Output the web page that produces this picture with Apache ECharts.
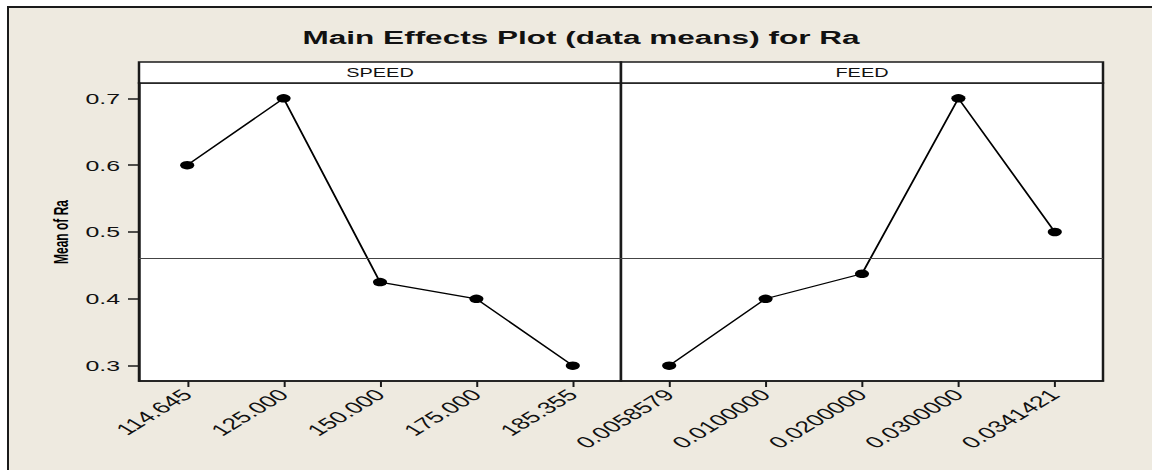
<!DOCTYPE html>
<html><head><meta charset="utf-8">
<script src="https://cdn.jsdelivr.net/npm/echarts@6/dist/echarts.min.js"></script>
<style>
html,body{margin:0;padding:0;background:#ffffff;overflow:hidden;width:1152px;height:470px;}
#frame{position:absolute;left:7px;top:6px;width:1160px;height:480px;background:#EEEAE0;border-left:2px solid #1a1a1a;border-top:2px solid #1a1a1a;}
#wrap{position:absolute;left:0;top:0;width:694px;height:470px;transform-origin:0 0;}
</style></head><body><div id="frame"></div><div id="wrap"></div>
<script>
// ---- data ----
const chartTitle = 'Main Effects Plot (data means) for Ra';
const yAxisTitle = 'Mean of Ra';
const factorNames = ['SPEED', 'FEED'];
const speedLevels = ['114.645', '125.000', '150.000', '175.000', '185.355'];
const speedMeans = [0.6, 0.7, 0.425, 0.4, 0.3];
const feedLevels = ['0.0058579', '0.0100000', '0.0200000', '0.0300000', '0.0341421'];
const feedMeans = [0.3, 0.4, 0.4375, 0.7, 0.5];
const overallMean = 0.464;
const yTicks = [0.3, 0.4, 0.5, 0.6, 0.7];

// ---- layout (visual px; chart drawn in a horizontally stretched box) ----
const PRE_W = 694, K = 1152 / PRE_W;
const wrap = document.getElementById('wrap');
wrap.style.transform = 'scaleX(' + K + ')';
const X = v => v / K;
const plotLeft = 139, panelW = 482, stripTop = 62, plotTop = 83, plotH = 298;
const FONT = '"Liberation Sans", Arial, Helvetica, sans-serif';
const INK = '#1a1a1a';

const levelsList = [speedLevels, feedLevels];
const meansList = [speedMeans, feedMeans];

const chart = echarts.init(wrap, null, {renderer: 'svg', width: PRE_W, height: 470});

const grids = [], xAxes = [], yAxes = [], series = [], graphics = [];
factorNames.forEach((name, i) => {
  grids.push({left: X(plotLeft + panelW * i), top: plotTop, width: X(panelW), height: plotH,
    show: true, backgroundColor: '#ffffff', borderColor: INK, borderWidth: 1.5, containLabel: false});
  xAxes.push({type: 'category', gridIndex: i, data: levelsList[i], boundaryGap: true,
    axisLine: {show: true, lineStyle: {color: INK, width: 1.5}},
    axisTick: {show: true, alignWithLabel: true, length: 6, lineStyle: {color: INK, width: 1.2}},
    axisLabel: {rotate: 45, margin: 11, fontSize: 16, color: '#111', fontFamily: FONT, interval: 0},
    splitLine: {show: false}});
  yAxes.push({type: 'value', gridIndex: i, min: 0.277, max: 0.723,
    axisLine: {show: i === 0, lineStyle: {color: INK, width: 1.5}},
    axisTick: {show: i === 0, length: X(11), customValues: yTicks, lineStyle: {color: INK, width: 1.5}},
    axisLabel: {show: i === 0, customValues: yTicks, margin: X(19), fontSize: 15, color: '#111', fontFamily: FONT,
      formatter: v => v.toFixed(1)},
    splitLine: {show: false}});
  series.push({type: 'line', xAxisIndex: i, yAxisIndex: i, data: meansList[i],
    symbol: 'circle', symbolSize: 8.5, showSymbol: true,
    itemStyle: {color: '#000'}, lineStyle: {color: '#000', width: 1.2},
    animation: false,
    markLine: {silent: true, symbol: 'none', label: {show: false},
      lineStyle: {color: '#444', width: 1, type: 'solid'},
      data: [{yAxis: overallMean}]}});
  graphics.push({type: 'rect', shape: {x: X(plotLeft + panelW * i), y: stripTop, width: X(panelW), height: plotTop - stripTop},
    style: {fill: '#ffffff', stroke: INK, lineWidth: 1.5}});
  graphics.push({type: 'text', x: X(plotLeft + panelW * i + panelW / 2), y: (stripTop + plotTop) / 2 + 0.5,
    style: {text: name, align: 'center', textAlign: 'center', verticalAlign: 'middle', textVerticalAlign: 'middle',
      fontSize: 12, fontFamily: FONT, fill: '#111'}});
});

graphics.push({type: 'text', x: X(581), y: 37,
  style: {text: chartTitle, align: 'center', textAlign: 'center', verticalAlign: 'middle', textVerticalAlign: 'middle',
    fontSize: 19, fontWeight: 'bold', fontFamily: FONT, fill: '#111'}});
graphics.push({type: 'text', x: X(61), y: 232, rotation: Math.PI / 2,
  style: {text: yAxisTitle, align: 'center', textAlign: 'center', verticalAlign: 'middle', textVerticalAlign: 'middle',
    fontSize: 12, fontWeight: 'bold', fontFamily: FONT, fill: '#000'}});

chart.setOption({
  animation: false,
  backgroundColor: 'transparent',
  grid: grids, xAxis: xAxes, yAxis: yAxes, series: series,
  graphic: {elements: graphics}
});
</script></body></html>
